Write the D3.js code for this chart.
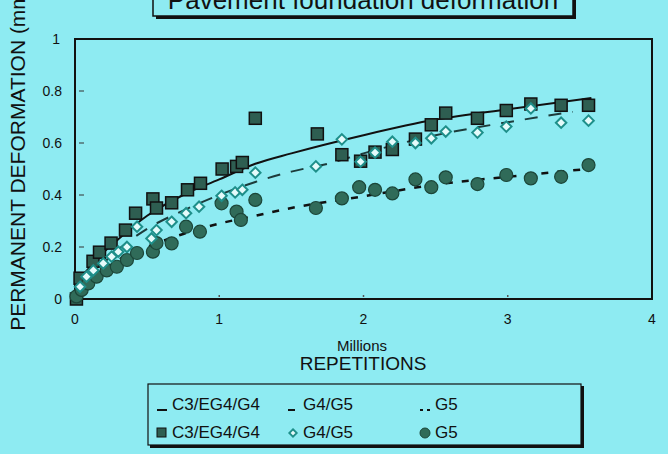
<!DOCTYPE html>
<html>
<head>
<meta charset="utf-8">
<script src="https://cdn.jsdelivr.net/npm/d3@7"></script>
<style>
  body { margin: 0; background: #8eebf2; }
  svg { display: block; font-family: "Liberation Sans", Arial, sans-serif; }
</style>
</head>
<body>
<div id="chart"></div>
<script>
// axis ticks
const xTicks = [0, 1, 2, 3, 4];
const yTicks = [0, 0.2, 0.4, 0.6, 0.8, 1];
const yTickLabels = ["0", "0.2", "0.4", "0.6", "0.8", "1"];

// C3/EG4/G4 measured points (millions of repetitions, mm)
const c3X = [0.01, 0.035, 0.125, 0.17, 0.25, 0.35, 0.42, 0.54, 0.565, 0.67, 0.78, 0.87, 1.02, 1.12, 1.16, 1.25, 1.68, 1.85, 1.98, 2.08, 2.2, 2.36, 2.47, 2.57, 2.79, 2.99, 3.16, 3.37, 3.56];
const c3Y = [0.0, 0.08, 0.145, 0.18, 0.215, 0.265, 0.33, 0.385, 0.35, 0.37, 0.42, 0.445, 0.5, 0.51, 0.525, 0.695, 0.635, 0.555, 0.53, 0.565, 0.575, 0.615, 0.67, 0.715, 0.695, 0.725, 0.75, 0.745, 0.745];

// G4/G5 measured points
const g45X = [0.035, 0.08, 0.127, 0.196, 0.254, 0.3, 0.36, 0.43, 0.53, 0.565, 0.67, 0.77, 0.86, 1.016, 1.11, 1.16, 1.25, 1.67, 1.85, 1.98, 2.08, 2.2, 2.36, 2.47, 2.57, 2.79, 2.99, 3.16, 3.37, 3.56];
const g45Y = [0.047, 0.086, 0.11, 0.137, 0.163, 0.182, 0.2, 0.278, 0.233, 0.265, 0.297, 0.33, 0.355, 0.397, 0.41, 0.42, 0.486, 0.51, 0.614, 0.528, 0.563, 0.605, 0.6, 0.618, 0.644, 0.64, 0.663, 0.733, 0.678, 0.686];

// G5 measured points
const g5X = [0.01, 0.046, 0.092, 0.15, 0.22, 0.29, 0.36, 0.43, 0.54, 0.565, 0.67, 0.77, 0.866, 1.016, 1.12, 1.15, 1.25, 1.67, 1.85, 1.97, 2.08, 2.2, 2.36, 2.47, 2.57, 2.79, 2.99, 3.16, 3.37, 3.56];
const g5Y = [0.01, 0.035, 0.06, 0.086, 0.11, 0.124, 0.15, 0.177, 0.182, 0.215, 0.214, 0.278, 0.259, 0.368, 0.336, 0.304, 0.381, 0.35, 0.387, 0.43, 0.42, 0.406, 0.46, 0.43, 0.468, 0.442, 0.477, 0.464, 0.47, 0.515];

// fitted curves
const c3FitX = [0.05, 0.1, 0.2, 0.3, 0.5, 0.75, 1.0, 1.25, 1.5, 2.0, 2.5, 3.0, 3.58];
const c3FitY = [0.09, 0.12, 0.18, 0.23, 0.32, 0.4, 0.46, 0.52, 0.56, 0.63, 0.69, 0.73, 0.773];
const g45FitX = [0.05, 0.1, 0.2, 0.3, 0.5, 0.75, 1.0, 1.25, 1.5, 1.75, 2.0, 2.5, 3.0, 3.45];
const g45FitY = [0.06, 0.09, 0.14, 0.19, 0.27, 0.34, 0.4, 0.45, 0.49, 0.52, 0.56, 0.63, 0.68, 0.72];
const g5FitX = [0.05, 0.1, 0.2, 0.3, 0.5, 0.75, 1.0, 1.25, 1.5, 2.0, 2.5, 3.0, 3.55];
const g5FitY = [0.04, 0.07, 0.11, 0.15, 0.2, 0.25, 0.29, 0.32, 0.35, 0.395, 0.44, 0.47, 0.5];

const width = 668, height = 454;
const margin = { left: 75, right: 16, top: 39, bottom: 155 };

const svg = d3.select("#chart").append("svg")
    .attr("width", width)
    .attr("height", height);

const x = d3.scaleLinear().domain([0, 4]).range([margin.left, width - margin.right]);
const y = d3.scaleLinear().domain([0, 1]).range([height - margin.bottom, margin.top]);

// title box, cut off at the top of the picture
svg.append("rect")
    .attr("x", 156).attr("y", -20)
    .attr("width", 420).attr("height", 39)
    .attr("fill", "#111");
svg.append("rect")
    .attr("x", 153).attr("y", -20)
    .attr("width", 420).attr("height", 36)
    .attr("fill", "#8eebf2")
    .attr("stroke", "#111")
    .attr("stroke-width", 1.5);
svg.append("text")
    .attr("x", 363).attr("y", 9)
    .attr("text-anchor", "middle")
    .attr("font-size", "26px")
    .attr("fill", "#111")
    .text("Pavement foundation deformation");

// y axis title
svg.append("text")
    .attr("transform", "translate(25,158) rotate(-90)")
    .attr("text-anchor", "middle")
    .attr("font-size", "21px")
    .attr("fill", "#111")
    .text("PERMANENT DEFORMATION (mm)");

// frame
svg.append("rect")
    .attr("x", x(0)).attr("y", y(1))
    .attr("width", x(4) - x(0)).attr("height", y(0) - y(1))
    .attr("fill", "none")
    .attr("stroke", "#111")
    .attr("stroke-width", 2);

// y ticks (inside)
svg.selectAll(".ytick")
    .data(yTicks.slice(1, -1))
    .enter().append("line")
    .attr("x1", x(0) + 4).attr("x2", x(0) + 9)
    .attr("y1", d => y(d)).attr("y2", d => y(d))
    .attr("stroke", "#333").attr("stroke-width", 1);

svg.selectAll(".ylab")
    .data(yTicks)
    .enter().append("text")
    .attr("x", (d, i) => i === yTicks.length - 1 ? 60 : 62)
    .attr("y", d => y(d) + 5)
    .attr("text-anchor", "end")
    .attr("font-size", "14px")
    .attr("fill", "#111")
    .text((d, i) => yTickLabels[i]);

// x ticks
svg.selectAll(".xtick")
    .data(xTicks.slice(1, -1))
    .enter().append("line")
    .attr("x1", d => x(d)).attr("x2", d => x(d))
    .attr("y1", y(0) - 4).attr("y2", y(0) - 2)
    .attr("stroke", "#555").attr("stroke-width", 1.5);

svg.selectAll(".xlab")
    .data(xTicks)
    .enter().append("text")
    .attr("x", d => x(d))
    .attr("y", y(0) + 25)
    .attr("text-anchor", "middle")
    .attr("font-size", "14px")
    .attr("fill", "#111")
    .text(d => d);

svg.append("text")
    .attr("x", 362).attr("y", 351)
    .attr("text-anchor", "middle")
    .attr("font-size", "15px")
    .attr("fill", "#111")
    .text("Millions");
svg.append("text")
    .attr("x", 363).attr("y", 370)
    .attr("text-anchor", "middle")
    .attr("font-size", "19px")
    .attr("fill", "#111")
    .text("REPETITIONS");

// fitted lines
const line = d3.line().x(d => x(d[0])).y(d => y(d[1])).curve(d3.curveMonotoneX);
const zip = (a, b) => a.map((v, i) => [v, b[i]]);

svg.append("path")
    .attr("d", line(zip(c3FitX, c3FitY)))
    .attr("fill", "none").attr("stroke", "#111").attr("stroke-width", 2);
svg.append("path")
    .attr("d", line(zip(g45FitX, g45FitY)))
    .attr("fill", "none").attr("stroke", "#1d3b3b").attr("stroke-width", 2)
    .attr("stroke-dasharray", "13,11");
svg.append("path")
    .attr("d", line(zip(g5FitX, g5FitY)))
    .attr("fill", "none").attr("stroke", "#111").attr("stroke-width", 2.5)
    .attr("stroke-dasharray", "7,9");

// markers
const sq = 12;
svg.selectAll(".c3")
    .data(zip(c3X, c3Y))
    .enter().append("rect")
    .attr("x", d => x(d[0]) - sq / 2)
    .attr("y", d => y(d[1]) - sq / 2)
    .attr("width", sq).attr("height", sq)
    .attr("fill", "#2e5e51")
    .attr("stroke", "#111").attr("stroke-width", 1.5);

svg.selectAll(".g5")
    .data(zip(g5X, g5Y))
    .enter().append("circle")
    .attr("cx", d => x(d[0]))
    .attr("cy", d => y(d[1]))
    .attr("r", 6.5)
    .attr("fill", "#306b59")
    .attr("stroke", "#1c4639").attr("stroke-width", 1.2);

const diamond = d3.symbol().type(d3.symbolDiamond2).size(70);
svg.selectAll(".g45")
    .data(zip(g45X, g45Y))
    .enter().append("path")
    .attr("d", diamond)
    .attr("transform", d => `translate(${x(d[0])},${y(d[1])})`)
    .attr("fill", "#e4fbfb")
    .attr("stroke", "#1e8f8a").attr("stroke-width", 2);

// legend
const legend = svg.append("g");
legend.append("rect")
    .attr("x", 150).attr("y", 386)
    .attr("width", 434).attr("height", 62)
    .attr("fill", "#111");
legend.append("rect")
    .attr("x", 148).attr("y", 384)
    .attr("width", 433).attr("height", 61)
    .attr("fill", "#8eebf2")
    .attr("stroke", "#111").attr("stroke-width", 1.2);

const legendNames = ["C3/EG4/G4", "G4/G5", "G5"];
const legendX = [157, 288, 420];
const legendDash = [null, "7,3", "3,4"];

legendNames.forEach((name, i) => {
    legend.append("line")
        .attr("x1", legendX[i]).attr("x2", legendX[i] + 10)
        .attr("y1", 410).attr("y2", 410)
        .attr("stroke", "#111").attr("stroke-width", 2)
        .attr("stroke-dasharray", legendDash[i]);
    legend.append("text")
        .attr("x", legendX[i] + 15).attr("y", 410)
        .attr("font-size", "17px").attr("fill", "#111")
        .text(name);
    legend.append("text")
        .attr("x", legendX[i] + 15).attr("y", 438)
        .attr("font-size", "17px").attr("fill", "#111")
        .text(name);
});

legend.append("rect")
    .attr("x", 157).attr("y", 428).attr("width", 9).attr("height", 9)
    .attr("fill", "#2e5e51").attr("stroke", "#111");
legend.append("path")
    .attr("d", d3.symbol().type(d3.symbolDiamond2).size(36))
    .attr("transform", "translate(293,433)")
    .attr("fill", "#e4fbfb").attr("stroke", "#1e8f8a").attr("stroke-width", 1.8);
legend.append("circle")
    .attr("cx", 425).attr("cy", 433).attr("r", 5)
    .attr("fill", "#306b59").attr("stroke", "#1c4639");
</script>
</body>
</html>
